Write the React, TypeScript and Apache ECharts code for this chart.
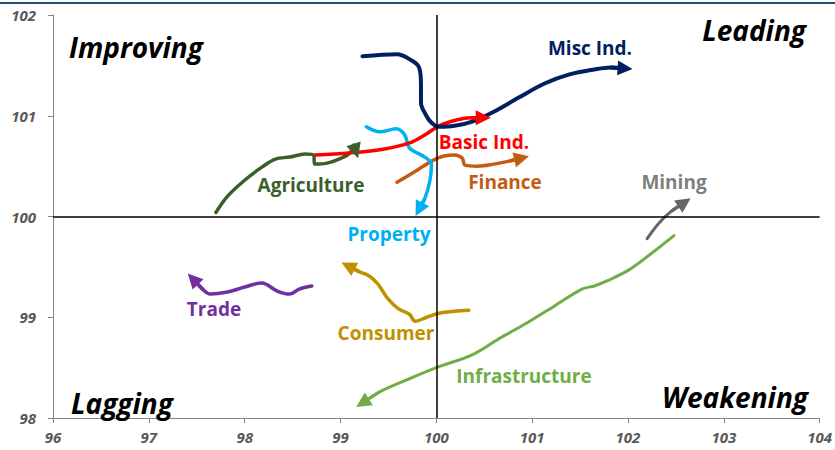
import React, { useEffect, useRef } from "react";
import * as echarts from "echarts";

// Axis ticks
const xTicks = [96, 97, 98, 99, 100, 101, 102, 103, 104];
const yTicks = [98, 99, 100, 101, 102];

// Sector trails (x = RS-Ratio, y = RS-Momentum), drawn oldest -> newest (arrow at last point)
const miscX = [99.23, 99.59, 99.74, 99.82, 99.84, 99.84, 99.89, 99.95, 100.03, 100.19, 100.4, 100.6, 100.86, 101.13, 101.39, 101.65, 101.82, 101.97];
const miscY = [101.59, 101.61, 101.55, 101.48, 101.31, 101.13, 101.01, 100.93, 100.89, 100.9, 100.95, 101.04, 101.18, 101.32, 101.41, 101.46, 101.48, 101.47];

const basicX = [98.74, 99.09, 99.46, 99.72, 99.88, 100.03, 100.22, 100.36, 100.49];
const basicY = [100.61, 100.63, 100.67, 100.73, 100.81, 100.9, 100.96, 100.98, 100.98];

const agriX = [97.7, 97.82, 98.0, 98.18, 98.32, 98.47, 98.63, 98.72, 98.73, 98.86, 99.01, 99.1, 99.14, 99.16];
const agriY = [100.04, 100.2, 100.36, 100.49, 100.57, 100.59, 100.62, 100.61, 100.52, 100.53, 100.58, 100.63, 100.71, 100.65];

const propX = [99.27, 99.41, 99.58, 99.67, 99.72, 99.88, 99.95, 99.93, 99.88, 99.82];
const propY = [100.89, 100.84, 100.87, 100.81, 100.68, 100.59, 100.52, 100.34, 100.18, 100.07];

const finX = [99.59, 99.8, 99.97, 100.08, 100.19, 100.27, 100.3, 100.43, 100.6, 100.76, 100.89];
const finY = [100.34, 100.46, 100.56, 100.6, 100.61, 100.58, 100.51, 100.5, 100.52, 100.55, 100.58];

const minX = [102.2, 102.32, 102.45, 102.59];
const minY = [99.78, 99.93, 100.05, 100.14];

const infraX = [102.48, 102.24, 102.01, 101.78, 101.65, 101.52, 101.23, 100.94, 100.66, 100.38, 100.0, 99.67, 99.41, 99.23];
const infraY = [99.81, 99.63, 99.47, 99.36, 99.31, 99.28, 99.11, 98.94, 98.79, 98.63, 98.5, 98.37, 98.26, 98.15];

const consX = [100.34, 100.19, 100.03, 99.9, 99.78, 99.72, 99.61, 99.49, 99.39, 99.3, 99.2, 99.08];
const consY = [99.07, 99.06, 99.04, 99.0, 98.96, 99.03, 99.08, 99.19, 99.33, 99.41, 99.45, 99.51];

const tradeX = [98.7, 98.57, 98.47, 98.34, 98.18, 98.0, 97.82, 97.64, 97.57, 97.46];
const tradeY = [99.31, 99.28, 99.23, 99.26, 99.34, 99.3, 99.25, 99.23, 99.27, 99.38];

const sectors = [
  { name: "Infrastructure", xs: infraX, ys: infraY, color: "#70AD47", width: 3 },
  { name: "Trade", xs: tradeX, ys: tradeY, color: "#7030A0", width: 3.5 },
  { name: "Consumer", xs: consX, ys: consY, color: "#BF9000", width: 3.5 },
  { name: "Mining", xs: minX, ys: minY, color: "#666666", width: 3 },
  { name: "Agriculture", xs: agriX, ys: agriY, color: "#3B5E2B", width: 3.5 },
  { name: "Finance", xs: finX, ys: finY, color: "#C55A11", width: 3.5 },
  { name: "Property", xs: propX, ys: propY, color: "#00B0F0", width: 3.5 },
  { name: "Basic Ind.", xs: basicX, ys: basicY, color: "#FF0000", width: 3.5 },
  { name: "Misc Ind.", xs: miscX, ys: miscY, color: "#002060", width: 4 },
];

// Label placement (pixel centres) and colours
const sectorLabels = [
  { text: "Misc Ind.", x: 590, y: 48, color: "#002060" },
  { text: "Basic Ind.", x: 484, y: 142, color: "#FF0000" },
  { text: "Agriculture", x: 311, y: 185, color: "#3B5E2B" },
  { text: "Finance", x: 505, y: 182, color: "#C55A11" },
  { text: "Property", x: 389, y: 234, color: "#00B0F0" },
  { text: "Mining", x: 674, y: 182, color: "#7F7F7F" },
  { text: "Trade", x: 214, y: 309, color: "#7030A0" },
  { text: "Consumer", x: 386, y: 333, color: "#BF9000" },
  { text: "Infrastructure", x: 524, y: 376, color: "#70AD47" },
];

const quadrantLabels = [
  { text: "Improving", x: 69, y: 47, align: "left" },
  { text: "Leading", x: 806, y: 30, align: "right" },
  { text: "Lagging", x: 71, y: 403, align: "left" },
  { text: "Weakening", x: 808, y: 397, align: "right" },
];

const FONT = "'Open Sans', Lato, sans-serif";

export default function App() {
  const ref = useRef<HTMLDivElement>(null);

  useEffect(() => {
    if (!ref.current) return;
    const chart = echarts.init(ref.current, undefined, { renderer: "svg" });

    const series: any[] = sectors.map((s) => {
      const data = s.xs.map((x, i) => [x, s.ys[i]]);
      const n = data.length;
      return {
        name: s.name,
        type: "line",
        data,
        smooth: 0.35,
        showSymbol: false,
        symbol: "none",
        lineStyle: { color: s.color, width: s.width, cap: "round", join: "round" },
        z: 3,
        markLine: {
          silent: true,
          animation: false,
          symbolSize: 15,
          label: { show: false },
          lineStyle: { color: s.color, width: s.width, type: "solid" },
          data: [[
            { coord: data[n - 2], symbol: "none" },
            { coord: data[n - 1], symbol: "triangle" },
          ]],
        },
      };
    });

    series.push({
      name: "quadrants",
      type: "line",
      data: [[100, 100]],
      showSymbol: false,
      symbol: "none",
      lineStyle: { width: 0 },
      z: 1,
      markLine: {
        silent: true,
        animation: false,
        symbol: "none",
        label: { show: false },
        lineStyle: { color: "#000000", width: 1.5, type: "solid" },
        data: [{ xAxis: 100 }, { yAxis: 100 }],
      },
    });

    const axisLabel = {
      color: "#595959",
      fontStyle: "italic",
      fontWeight: "bold",
      fontSize: 15,
      fontFamily: FONT,
    };

    const graphics: any[] = [
      {
        type: "rect",
        shape: { x: 0, y: 2, width: 835, height: 2 },
        style: { fill: "#1F4E79" },
        silent: true,
      },
      ...sectorLabels.map((l) => ({
        type: "text",
        x: l.x,
        y: l.y,
        z: 10,
        style: {
          text: l.text,
          fill: l.color,
          font: `bold 19px ${FONT}`,
          textAlign: "center",
          verticalAlign: "middle",
        },
      })),
      ...quadrantLabels.map((l) => ({
        type: "text",
        x: l.x,
        y: l.y,
        z: 10,
        style: {
          text: l.text,
          fill: "#000000",
          font: `italic bold 28px ${FONT}`,
          textAlign: l.align,
          verticalAlign: "middle",
        },
      })),
    ];

    chart.setOption({
      animation: false,
      grid: { left: 53, right: 14, top: 15, bottom: 32, containLabel: false },
      xAxis: {
        type: "value",
        min: xTicks[0],
        max: xTicks[xTicks.length - 1],
        interval: 1,
        axisLine: { show: true, onZero: false, lineStyle: { color: "#868686", width: 1 } },
        axisTick: { show: true, inside: false, length: 5, lineStyle: { color: "#868686" } },
        splitLine: { show: false },
        axisLabel: { ...axisLabel, margin: 11 },
      },
      yAxis: {
        type: "value",
        min: yTicks[0],
        max: yTicks[yTicks.length - 1],
        interval: 1,
        axisLine: { show: true, onZero: false, lineStyle: { color: "#868686", width: 1 } },
        axisTick: { show: true, inside: false, length: 5, lineStyle: { color: "#868686" } },
        splitLine: { show: false },
        axisLabel: { ...axisLabel, margin: 17 },
      },
      series,
      graphic: graphics,
    });

    return () => chart.dispose();
  }, []);

  return (
    <div
      ref={ref}
      style={{ position: "fixed", left: 0, top: 0, width: 835, height: 450, background: "#ffffff" }}
    />
  );
}
